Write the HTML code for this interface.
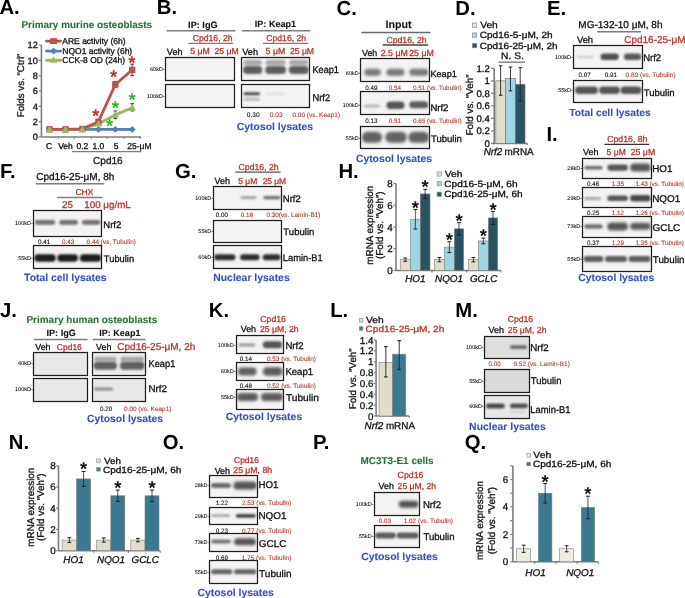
<!DOCTYPE html>
<html><head><meta charset="utf-8"><style>
html,body{margin:0;padding:0;background:#fff;width:685px;height:598px;overflow:hidden}
svg{display:block;will-change:transform;text-rendering:geometricPrecision;font-family:"Liberation Sans",sans-serif}
</style></head><body>
<svg width="685" height="598" viewBox="0 0 685 598">
<defs><filter id="b2" x="-30%" y="-80%" width="160%" height="260%"><feGaussianBlur stdDeviation="0.2"/></filter><filter id="b3" x="-30%" y="-80%" width="160%" height="260%"><feGaussianBlur stdDeviation="0.3"/></filter><filter id="b4" x="-30%" y="-80%" width="160%" height="260%"><feGaussianBlur stdDeviation="0.4"/></filter><filter id="b5" x="-30%" y="-80%" width="160%" height="260%"><feGaussianBlur stdDeviation="0.5"/></filter><filter id="b6" x="-30%" y="-80%" width="160%" height="260%"><feGaussianBlur stdDeviation="0.6"/></filter><filter id="b7" x="-30%" y="-80%" width="160%" height="260%"><feGaussianBlur stdDeviation="0.7"/></filter><filter id="b8" x="-30%" y="-80%" width="160%" height="260%"><feGaussianBlur stdDeviation="0.8"/></filter><filter id="b9" x="-30%" y="-80%" width="160%" height="260%"><feGaussianBlur stdDeviation="0.9"/></filter><filter id="b10" x="-30%" y="-80%" width="160%" height="260%"><feGaussianBlur stdDeviation="1.0"/></filter><filter id="b11" x="-30%" y="-80%" width="160%" height="260%"><feGaussianBlur stdDeviation="1.1"/></filter><filter id="b12" x="-30%" y="-80%" width="160%" height="260%"><feGaussianBlur stdDeviation="1.2"/></filter><filter id="b13" x="-30%" y="-80%" width="160%" height="260%"><feGaussianBlur stdDeviation="1.3"/></filter><filter id="b14" x="-30%" y="-80%" width="160%" height="260%"><feGaussianBlur stdDeviation="1.4"/></filter><filter id="b15" x="-30%" y="-80%" width="160%" height="260%"><feGaussianBlur stdDeviation="1.5"/></filter><filter id="b16" x="-30%" y="-80%" width="160%" height="260%"><feGaussianBlur stdDeviation="1.6"/></filter><filter id="b17" x="-30%" y="-80%" width="160%" height="260%"><feGaussianBlur stdDeviation="1.7"/></filter><filter id="b18" x="-30%" y="-80%" width="160%" height="260%"><feGaussianBlur stdDeviation="1.8"/></filter><filter id="b19" x="-30%" y="-80%" width="160%" height="260%"><feGaussianBlur stdDeviation="1.9"/></filter><filter id="b20" x="-30%" y="-80%" width="160%" height="260%"><feGaussianBlur stdDeviation="2.0"/></filter><filter id="b21" x="-30%" y="-80%" width="160%" height="260%"><feGaussianBlur stdDeviation="2.1"/></filter><filter id="b22" x="-30%" y="-80%" width="160%" height="260%"><feGaussianBlur stdDeviation="2.2"/></filter><filter id="b23" x="-30%" y="-80%" width="160%" height="260%"><feGaussianBlur stdDeviation="2.3"/></filter><filter id="b24" x="-30%" y="-80%" width="160%" height="260%"><feGaussianBlur stdDeviation="2.4"/></filter><filter id="b25" x="-30%" y="-80%" width="160%" height="260%"><feGaussianBlur stdDeviation="2.5"/></filter><filter id="b26" x="-30%" y="-80%" width="160%" height="260%"><feGaussianBlur stdDeviation="2.6"/></filter><filter id="b27" x="-30%" y="-80%" width="160%" height="260%"><feGaussianBlur stdDeviation="2.7"/></filter><filter id="b28" x="-30%" y="-80%" width="160%" height="260%"><feGaussianBlur stdDeviation="2.8"/></filter><filter id="b29" x="-30%" y="-80%" width="160%" height="260%"><feGaussianBlur stdDeviation="2.9"/></filter><filter id="b30" x="-30%" y="-80%" width="160%" height="260%"><feGaussianBlur stdDeviation="3.0"/></filter></defs>
<rect width="685" height="598" fill="#fff"/>
<text x="-0.61" y="14.41" font-size="20.3" font-weight="bold" fill="#000">A.</text>
<text x="21.45" y="28.08" font-size="9.94" fill="#2b7034" font-weight="bold" stroke="#2b7034" stroke-width="0.08">Primary murine osteoblasts</text>
<line x1="41.4" y1="45" x2="41.4" y2="137.0" stroke="#7d7d7d" stroke-width="1.6"/>
<line x1="41.4" y1="137.0" x2="141" y2="137.0" stroke="#7d7d7d" stroke-width="1.6"/>
<line x1="38.6" y1="45.0" x2="41.4" y2="45.0" stroke="#7d7d7d" stroke-width="1.2"/>
<text x="37.80" y="48.31" font-size="9.2" fill="#111" text-anchor="end" stroke="#111" stroke-width="0.3">12</text>
<line x1="38.6" y1="60.33333333333333" x2="41.4" y2="60.33333333333333" stroke="#7d7d7d" stroke-width="1.2"/>
<text x="37.80" y="63.65" font-size="9.2" fill="#111" text-anchor="end" stroke="#111" stroke-width="0.3">10</text>
<line x1="38.6" y1="75.66666666666666" x2="41.4" y2="75.66666666666666" stroke="#7d7d7d" stroke-width="1.2"/>
<text x="37.80" y="78.98" font-size="9.2" fill="#111" text-anchor="end" stroke="#111" stroke-width="0.3">8</text>
<line x1="38.6" y1="91.0" x2="41.4" y2="91.0" stroke="#7d7d7d" stroke-width="1.2"/>
<text x="37.80" y="94.31" font-size="9.2" fill="#111" text-anchor="end" stroke="#111" stroke-width="0.3">6</text>
<line x1="38.6" y1="106.33333333333333" x2="41.4" y2="106.33333333333333" stroke="#7d7d7d" stroke-width="1.2"/>
<text x="37.80" y="109.65" font-size="9.2" fill="#111" text-anchor="end" stroke="#111" stroke-width="0.3">4</text>
<line x1="38.6" y1="121.66666666666667" x2="41.4" y2="121.66666666666667" stroke="#7d7d7d" stroke-width="1.2"/>
<text x="37.80" y="124.98" font-size="9.2" fill="#111" text-anchor="end" stroke="#111" stroke-width="0.3">2</text>
<line x1="38.6" y1="137.0" x2="41.4" y2="137.0" stroke="#7d7d7d" stroke-width="1.2"/>
<text x="37.80" y="140.31" font-size="9.2" fill="#111" text-anchor="end" stroke="#111" stroke-width="0.3">0</text>
<line x1="58.3" y1="137.0" x2="58.3" y2="138.8" stroke="#7d7d7d" stroke-width="1.2"/>
<line x1="74.3" y1="137.0" x2="74.3" y2="138.8" stroke="#7d7d7d" stroke-width="1.2"/>
<line x1="91.2" y1="137.0" x2="91.2" y2="138.8" stroke="#7d7d7d" stroke-width="1.2"/>
<line x1="107.3" y1="137.0" x2="107.3" y2="138.8" stroke="#7d7d7d" stroke-width="1.2"/>
<line x1="124.1" y1="137.0" x2="124.1" y2="138.8" stroke="#7d7d7d" stroke-width="1.2"/>
<line x1="140.2" y1="137.0" x2="140.2" y2="138.8" stroke="#7d7d7d" stroke-width="1.2"/>
<text x="20.50" y="89.03" font-size="9.8" fill="#111" text-anchor="middle" transform="rotate(-90 20.50 85.50)" stroke="#111" stroke-width="0.3">Folds vs. “Ctrl”</text>
<line x1="115.3" y1="81.41666666666666" x2="115.3" y2="87.55" stroke="#333" stroke-width="0.9"/>
<line x1="113.5" y1="81.41666666666666" x2="117.1" y2="81.41666666666666" stroke="#333" stroke-width="1.0"/>
<line x1="113.5" y1="87.55" x2="117.1" y2="87.55" stroke="#333" stroke-width="1.0"/>
<line x1="132.2" y1="64.16666666666666" x2="132.2" y2="75.66666666666666" stroke="#333" stroke-width="0.9"/>
<line x1="130.39999999999998" y1="64.16666666666666" x2="134.0" y2="64.16666666666666" stroke="#333" stroke-width="1.0"/>
<line x1="130.39999999999998" y1="75.66666666666666" x2="134.0" y2="75.66666666666666" stroke="#333" stroke-width="1.0"/>
<line x1="115.3" y1="110.93333333333334" x2="115.3" y2="118.6" stroke="#333" stroke-width="0.9"/>
<line x1="113.5" y1="110.93333333333334" x2="117.1" y2="110.93333333333334" stroke="#333" stroke-width="1.0"/>
<line x1="113.5" y1="118.6" x2="117.1" y2="118.6" stroke="#333" stroke-width="1.0"/>
<line x1="132.2" y1="103.65" x2="132.2" y2="110.93333333333334" stroke="#333" stroke-width="0.9"/>
<line x1="130.39999999999998" y1="103.65" x2="134.0" y2="103.65" stroke="#333" stroke-width="1.0"/>
<line x1="130.39999999999998" y1="110.93333333333334" x2="134.0" y2="110.93333333333334" stroke="#333" stroke-width="1.0"/>
<polyline points="49.5,129.3 65.5,129.3 82.4,129.3 98.4,129.3 115.3,129.3 132.2,129.5" fill="none" stroke="#4f81bd" stroke-width="2.8" stroke-linejoin="round"/>
<polyline points="49.5,129.5 65.5,129.5 82.4,129.3 98.4,123.7 115.3,114.9 132.2,107.7" fill="none" stroke="#9bbb59" stroke-width="2.8" stroke-linejoin="round"/>
<polyline points="49.5,129.3 65.5,129.3 82.4,128.9 98.4,121.7 115.3,84.5 132.2,69.9" fill="none" stroke="#c0504d" stroke-width="2.8" stroke-linejoin="round"/>
<polygon points="49.5,125.93333333333334 52.9,129.33333333333334 49.5,132.73333333333335 46.1,129.33333333333334" fill="#4f81bd"/>
<polygon points="65.5,125.93333333333334 68.9,129.33333333333334 65.5,132.73333333333335 62.1,129.33333333333334" fill="#4f81bd"/>
<polygon points="82.4,125.93333333333334 85.80000000000001,129.33333333333334 82.4,132.73333333333335 79.0,129.33333333333334" fill="#4f81bd"/>
<polygon points="98.4,125.93333333333334 101.80000000000001,129.33333333333334 98.4,132.73333333333335 95.0,129.33333333333334" fill="#4f81bd"/>
<polygon points="115.3,125.93333333333334 118.7,129.33333333333334 115.3,132.73333333333335 111.89999999999999,129.33333333333334" fill="#4f81bd"/>
<polygon points="132.2,126.08666666666667 135.6,129.48666666666668 132.2,132.88666666666668 128.79999999999998,129.48666666666668" fill="#4f81bd"/>
<rect x="46.30" y="126.13" width="6.40" height="6.40" fill="#c0504d" />
<rect x="62.30" y="126.13" width="6.40" height="6.40" fill="#c0504d" />
<rect x="79.20" y="125.75" width="6.40" height="6.40" fill="#c0504d" />
<rect x="95.20" y="118.47" width="6.40" height="6.40" fill="#c0504d" />
<rect x="112.10" y="81.28" width="6.40" height="6.40" fill="#c0504d" />
<rect x="129.00" y="66.72" width="6.40" height="6.40" fill="#c0504d" />
<polygon points="49.5,125.68666666666668 53.3,132.2866666666667 45.7,132.2866666666667" fill="#9bbb59"/>
<polygon points="65.5,125.68666666666668 69.3,132.2866666666667 61.7,132.2866666666667" fill="#9bbb59"/>
<polygon points="82.4,125.53333333333335 86.2,132.13333333333335 78.60000000000001,132.13333333333335" fill="#9bbb59"/>
<polygon points="98.4,119.93666666666667 102.2,126.53666666666666 94.60000000000001,126.53666666666666" fill="#9bbb59"/>
<polygon points="115.3,111.12 119.1,117.72 111.5,117.72" fill="#9bbb59"/>
<polygon points="132.2,103.91333333333334 136.0,110.51333333333334 128.39999999999998,110.51333333333334" fill="#9bbb59"/>
<line x1="46.5" y1="41.1" x2="60.6" y2="41.1" stroke="#c0504d" stroke-width="2.9" stroke-linecap="round"/>
<rect x="50.00" y="38.20" width="7.00" height="5.80" fill="#c0504d" />
<text x="62.30" y="44.16" font-size="8.5" fill="#111" stroke="#111" stroke-width="0.3">ARE activity (6h)</text>
<line x1="46.5" y1="51.1" x2="60.6" y2="51.1" stroke="#4f81bd" stroke-width="2.9" stroke-linecap="round"/>
<polygon points="53.5,47.7 57,51.1 53.5,54.5 50,51.1" fill="#4f81bd"/>
<text x="62.30" y="54.16" font-size="8.5" fill="#111" stroke="#111" stroke-width="0.3">NQO1 activity (6h)</text>
<line x1="46.5" y1="60.2" x2="60.6" y2="60.2" stroke="#9bbb59" stroke-width="2.9" stroke-linecap="round"/>
<polygon points="53.5,56.400000000000006 57.5,62.800000000000004 49.5,62.800000000000004" fill="#9bbb59"/>
<text x="62.30" y="63.26" font-size="8.5" fill="#111" stroke="#111" stroke-width="0.3">CCK-8 OD (24h)</text>
<text x="95.70" y="122.44" font-size="18.5" font-weight="bold" fill="#c2302a" text-anchor="middle">*</text>
<text x="113.70" y="82.84" font-size="18.5" font-weight="bold" fill="#c2302a" text-anchor="middle">*</text>
<text x="131.80" y="68.64" font-size="18.5" font-weight="bold" fill="#c2302a" text-anchor="middle">*</text>
<text x="109.70" y="132.34" font-size="18.5" font-weight="bold" fill="#2fb02f" text-anchor="middle">*</text>
<text x="115.30" y="113.94" font-size="18.5" font-weight="bold" fill="#2fb02f" text-anchor="middle">*</text>
<text x="132.20" y="105.53" font-size="18.5" font-weight="bold" fill="#2fb02f" text-anchor="middle">*</text>
<text x="49.10" y="149.26" font-size="8.5" fill="#111" text-anchor="middle" stroke="#111" stroke-width="0.3">C</text>
<text x="65.50" y="149.26" font-size="8.5" fill="#111" text-anchor="middle" stroke="#111" stroke-width="0.3">Veh</text>
<text x="82.40" y="149.26" font-size="8.5" fill="#111" text-anchor="middle" stroke="#111" stroke-width="0.3">0.2</text>
<text x="98.40" y="149.26" font-size="8.5" fill="#111" text-anchor="middle" stroke="#111" stroke-width="0.3">1.0</text>
<text x="116.10" y="149.26" font-size="8.5" fill="#111" text-anchor="middle" stroke="#111" stroke-width="0.3">5</text>
<text x="127.30" y="149.26" font-size="8.5" fill="#111" stroke="#111" stroke-width="0.3">25-μM</text>
<line x1="72" y1="151.7" x2="141.5" y2="151.7" stroke="#7d7d7d" stroke-width="1.2"/>
<text x="93.05" y="163.53" font-size="10.07" fill="#111" stroke="#111" stroke-width="0.3">Cpd16</text>
<text x="156.78" y="14.41" font-size="20.3" font-weight="bold" fill="#000">B.</text>
<text x="188.11" y="27.50" font-size="9.16" fill="#111" font-weight="bold" stroke="#111" stroke-width="0.08">IP: IgG</text>
<line x1="166.6" y1="30.8" x2="235.4" y2="30.8" stroke="#7d7d7d" stroke-width="1.4"/>
<text x="254.82" y="27.46" font-size="9.06" fill="#111" font-weight="bold" stroke="#111" stroke-width="0.08">IP: Keap1</text>
<line x1="242" y1="30.8" x2="310.3" y2="30.8" stroke="#7d7d7d" stroke-width="1.4"/>
<text x="192.72" y="41.21" font-size="8.64" fill="#b5382e" stroke="#b5382e" stroke-width="0.3">Cpd16, 2h</text>
<line x1="188.4" y1="43.4" x2="233" y2="43.4" stroke="#7d7d7d" stroke-width="1.4"/>
<text x="266.32" y="41.20" font-size="8.62" fill="#b5382e" stroke="#b5382e" stroke-width="0.3">Cpd16, 2h</text>
<line x1="263" y1="43.4" x2="308.4" y2="43.4" stroke="#7d7d7d" stroke-width="1.4"/>
<text x="166.86" y="54.59" font-size="9.15" fill="#111" stroke="#111" stroke-width="0.3">Veh</text>
<text x="190.20" y="54.46" font-size="8.77" fill="#b5382e" stroke="#b5382e" stroke-width="0.3">5 μM</text>
<text x="214.52" y="54.41" font-size="8.65" fill="#b5382e" stroke="#b5382e" stroke-width="0.3">25 μM</text>
<text x="242.26" y="54.59" font-size="9.15" fill="#111" stroke="#111" stroke-width="0.3">Veh</text>
<text x="265.60" y="54.46" font-size="8.77" fill="#b5382e" stroke="#b5382e" stroke-width="0.3">5 μM</text>
<text x="289.92" y="54.41" font-size="8.65" fill="#b5382e" stroke="#b5382e" stroke-width="0.3">25 μM</text>
<rect x="165.50" y="57.50" width="69.00" height="23.00" fill="#f3f3f3" stroke="#1e1e1e" stroke-width="1.25" />
<rect x="165.50" y="84.50" width="69.00" height="23.00" fill="#f3f3f3" stroke="#1e1e1e" stroke-width="1.25" />
<rect x="241.50" y="57.50" width="68.00" height="23.00" fill="#f3f3f3" stroke="#1e1e1e" stroke-width="1.25" />
<rect x="241.50" y="84.50" width="68.00" height="23.00" fill="#f3f3f3" stroke="#1e1e1e" stroke-width="1.25" />
<rect x="243.50" y="59.80" width="18.30" height="6.00" rx="3.00" fill="#ababab" opacity="1.0" filter="url(#b12)"/>
<rect x="243.00" y="66.00" width="19.30" height="8.00" rx="4.00" fill="#5e5e5e" opacity="1.0" filter="url(#b12)"/>
<rect x="265.70" y="59.80" width="19.80" height="6.00" rx="3.00" fill="#ababab" opacity="1.0" filter="url(#b12)"/>
<rect x="265.20" y="66.00" width="20.80" height="8.00" rx="4.00" fill="#5e5e5e" opacity="1.0" filter="url(#b12)"/>
<rect x="289.30" y="59.80" width="19.10" height="6.00" rx="3.00" fill="#ababab" opacity="1.0" filter="url(#b12)"/>
<rect x="288.80" y="66.00" width="20.10" height="8.00" rx="4.00" fill="#5e5e5e" opacity="1.0" filter="url(#b12)"/>
<rect x="243.50" y="92.30" width="16.50" height="3.00" rx="1.50" fill="#484848" opacity="1.0" filter="url(#b8)"/>
<rect x="243.50" y="97.45" width="16.50" height="3.50" rx="1.75" fill="#bdbdbd" opacity="1.0" filter="url(#b10)"/>
<rect x="266.00" y="92.80" width="18.00" height="2.00" rx="1.00" fill="#dadada" opacity="1.0" filter="url(#b8)"/>
<text x="312.52" y="72.83" font-size="9.8" fill="#111" textLength="26.40" lengthAdjust="spacingAndGlyphs" stroke="#111" stroke-width="0.3">Keap1</text>
<text x="312.50" y="100.53" font-size="9.8" fill="#111" textLength="17.60" lengthAdjust="spacingAndGlyphs" stroke="#111" stroke-width="0.3">Nrf2</text>
<text x="164.70" y="70.98" font-size="5.5" fill="#000" text-anchor="end" stroke="#000" stroke-width="0.06">60kD-</text>
<text x="164.70" y="98.48" font-size="5.5" fill="#000" text-anchor="end" stroke="#000" stroke-width="0.06">100kD-</text>
<text x="253.20" y="117.38" font-size="6.6" fill="#111" text-anchor="middle" stroke="#111" stroke-width="0.1">0.30</text>
<text x="276.20" y="117.38" font-size="6.6" fill="#b5382e" text-anchor="middle" stroke="#b5382e" stroke-width="0.1">0.03</text>
<text x="292.39" y="117.34" font-size="6.5" fill="#b5382e" stroke="#b5382e" stroke-width="0.1">0.00 (vs. Keap1)</text>
<text x="236.83" y="129.54" font-size="10.39" fill="#3450bb" font-weight="bold" stroke="#3450bb" stroke-width="0.08">Cytosol lysates</text>
<text x="336.49" y="14.61" font-size="20.3" font-weight="bold" fill="#000">C.</text>
<text x="385.50" y="28.34" font-size="10.68" fill="#111" font-weight="bold" stroke="#111" stroke-width="0.08">Input</text>
<line x1="361.4" y1="32.5" x2="430.5" y2="32.5" stroke="#6a6a6a" stroke-width="1.4"/>
<text x="386.41" y="42.84" font-size="8.71" fill="#b5382e" stroke="#b5382e" stroke-width="0.3">Cpd16, 2h</text>
<line x1="382.7" y1="45" x2="428.2" y2="45" stroke="#444" stroke-width="1.3"/>
<text x="362.06" y="56.18" font-size="8.84" fill="#111" stroke="#111" stroke-width="0.3">Veh</text>
<text x="380.71" y="56.18" font-size="8.84" fill="#b5382e" stroke="#b5382e" stroke-width="0.3">2.5 μM</text>
<text x="409.21" y="56.17" font-size="8.8" fill="#b5382e" stroke="#b5382e" stroke-width="0.3">25 μM</text>
<rect x="360.50" y="58.50" width="69.00" height="23.00" fill="#f3f3f3" stroke="#1e1e1e" stroke-width="1.25" />
<rect x="364.30" y="68.80" width="16.50" height="7.00" rx="3.50" fill="#787878" opacity="1.0" filter="url(#b14)"/>
<rect x="386.50" y="68.80" width="18.00" height="7.00" rx="3.50" fill="#787878" opacity="1.0" filter="url(#b14)"/>
<rect x="409.30" y="68.80" width="18.90" height="7.00" rx="3.50" fill="#787878" opacity="1.0" filter="url(#b14)"/>
<text x="430.42" y="76.69" font-size="9.13" fill="#111" stroke="#111" stroke-width="0.3">Keap1</text>
<text x="360.50" y="74.98" font-size="5.5" fill="#000" text-anchor="end" stroke="#000" stroke-width="0.06">60kD-</text>
<text x="371.30" y="89.57" font-size="6.3" fill="#111" text-anchor="middle" stroke="#111" stroke-width="0.1">0.49</text>
<text x="395.00" y="89.57" font-size="6.3" fill="#b5382e" text-anchor="middle" stroke="#b5382e" stroke-width="0.1">0.54</text>
<text x="412.90" y="89.59" font-size="6.36" fill="#b5382e" stroke="#b5382e" stroke-width="0.1">0.51 (vs. Tubulin)</text>
<rect x="360.50" y="91.50" width="69.00" height="23.00" fill="#f3f3f3" stroke="#1e1e1e" stroke-width="1.25" />
<rect x="364.00" y="104.40" width="16.00" height="3.20" rx="1.60" fill="#b8b8b8" opacity="1.0" filter="url(#b10)"/>
<rect x="386.50" y="101.55" width="18.00" height="7.50" rx="3.75" fill="#555" opacity="1.0" filter="url(#b13)"/>
<rect x="409.30" y="101.20" width="18.90" height="7.00" rx="3.50" fill="#5e5e5e" opacity="1.0" filter="url(#b13)"/>
<text x="430.39" y="110.63" font-size="9.54" fill="#111" stroke="#111" stroke-width="0.3">Nrf2</text>
<text x="360.50" y="107.28" font-size="5.5" fill="#000" text-anchor="end" stroke="#000" stroke-width="0.06">100kD-</text>
<text x="371.30" y="122.77" font-size="6.3" fill="#111" text-anchor="middle" stroke="#111" stroke-width="0.1">0.13</text>
<text x="395.00" y="122.77" font-size="6.3" fill="#b5382e" text-anchor="middle" stroke="#b5382e" stroke-width="0.1">0.51</text>
<text x="412.90" y="122.79" font-size="6.36" fill="#b5382e" stroke="#b5382e" stroke-width="0.1">0.65 (vs. Tubulin)</text>
<rect x="360.50" y="126.50" width="69.00" height="22.00" fill="#f3f3f3" stroke="#1e1e1e" stroke-width="1.25" />
<rect x="361.80" y="131.80" width="20.30" height="11.00" rx="5.50" fill="#636363" opacity="1.0" filter="url(#b16)"/>
<rect x="385.20" y="131.80" width="21.60" height="11.00" rx="5.50" fill="#636363" opacity="1.0" filter="url(#b16)"/>
<rect x="408.30" y="131.80" width="20.90" height="11.00" rx="5.50" fill="#636363" opacity="1.0" filter="url(#b16)"/>
<text x="430.96" y="141.94" font-size="9.56" fill="#111" stroke="#111" stroke-width="0.3">Tubulin</text>
<text x="360.50" y="139.88" font-size="5.5" fill="#000" text-anchor="end" stroke="#000" stroke-width="0.06">55kD-</text>
<text x="394.00" y="161.94" font-size="10.4" fill="#3450bb" text-anchor="middle" font-weight="bold" stroke="#3450bb" stroke-width="0.08">Cytosol lysates</text>
<text x="455.28" y="14.71" font-size="20.3" font-weight="bold" fill="#000">D.</text>
<rect x="472.40" y="23.00" width="4.40" height="4.40" fill="#e2dccb" stroke="#8a8a8a" stroke-width="0.6" />
<text x="480.15" y="28.44" font-size="9.0" fill="#111" textLength="17.66" lengthAdjust="spacingAndGlyphs" stroke="#111" stroke-width="0.3">Veh</text>
<rect x="472.40" y="32.90" width="4.40" height="4.40" fill="#9fd4e2" stroke="#8a8a8a" stroke-width="0.6" />
<text x="479.75" y="38.34" font-size="9.0" fill="#111" textLength="72.86" lengthAdjust="spacingAndGlyphs" stroke="#111" stroke-width="0.3">Cpd16-5-μM, 2h</text>
<rect x="472.40" y="43.40" width="4.40" height="4.40" fill="#2b5462" stroke="#8a8a8a" stroke-width="0.6" />
<text x="479.75" y="48.84" font-size="9.0" fill="#111" textLength="77.92" lengthAdjust="spacingAndGlyphs" stroke="#111" stroke-width="0.3">Cpd16-25-μM, 2h</text>
<text x="501.13" y="59.28" font-size="9.4" fill="#111" textLength="22.77" lengthAdjust="spacingAndGlyphs" stroke="#111" stroke-width="0.3">N. S.</text>
<line x1="498.7" y1="62.2" x2="525" y2="62.2" stroke="#7d7d7d" stroke-width="1.4"/>
<line x1="494.2" y1="68.3" x2="494.2" y2="143.5" stroke="#7d7d7d" stroke-width="1.6"/>
<line x1="492.8" y1="143.5" x2="527.4" y2="143.5" stroke="#7d7d7d" stroke-width="1.6"/>
<line x1="527.4" y1="143.5" x2="527.4" y2="145.1" stroke="#7d7d7d" stroke-width="1.2"/>
<line x1="491" y1="68.3" x2="494.2" y2="68.3" stroke="#7d7d7d" stroke-width="1.2"/>
<text x="489.80" y="71.76" font-size="9.6" fill="#111" text-anchor="end" stroke="#111" stroke-width="0.3">1.2</text>
<line x1="491" y1="80.83333333333333" x2="494.2" y2="80.83333333333333" stroke="#7d7d7d" stroke-width="1.2"/>
<text x="489.80" y="84.29" font-size="9.6" fill="#111" text-anchor="end" stroke="#111" stroke-width="0.3">1</text>
<line x1="491" y1="93.36666666666666" x2="494.2" y2="93.36666666666666" stroke="#7d7d7d" stroke-width="1.2"/>
<text x="489.80" y="96.82" font-size="9.6" fill="#111" text-anchor="end" stroke="#111" stroke-width="0.3">0.8</text>
<line x1="491" y1="105.9" x2="494.2" y2="105.9" stroke="#7d7d7d" stroke-width="1.2"/>
<text x="489.80" y="109.36" font-size="9.6" fill="#111" text-anchor="end" stroke="#111" stroke-width="0.3">0.6</text>
<line x1="491" y1="118.43333333333334" x2="494.2" y2="118.43333333333334" stroke="#7d7d7d" stroke-width="1.2"/>
<text x="489.80" y="121.89" font-size="9.6" fill="#111" text-anchor="end" stroke="#111" stroke-width="0.3">0.4</text>
<line x1="491" y1="130.96666666666667" x2="494.2" y2="130.96666666666667" stroke="#7d7d7d" stroke-width="1.2"/>
<text x="489.80" y="134.42" font-size="9.6" fill="#111" text-anchor="end" stroke="#111" stroke-width="0.3">0.2</text>
<line x1="491" y1="143.5" x2="494.2" y2="143.5" stroke="#7d7d7d" stroke-width="1.2"/>
<text x="489.80" y="146.96" font-size="9.6" fill="#111" text-anchor="end" stroke="#111" stroke-width="0.3">0</text>
<text x="469.30" y="108.56" font-size="9.9" fill="#111" text-anchor="middle" transform="rotate(-90 469.30 105.00)" stroke="#111" stroke-width="0.3">Fold vs. “Veh”</text>
<rect x="495.80" y="80.83" width="9.70" height="62.67" fill="#e2dccb" stroke="#777" stroke-width="0.7" />
<line x1="500.65" y1="65.79333333333332" x2="500.65" y2="95.24666666666667" stroke="#222" stroke-width="0.9"/>
<line x1="498.84999999999997" y1="65.79333333333332" x2="502.45" y2="65.79333333333332" stroke="#222" stroke-width="1.1"/>
<line x1="498.84999999999997" y1="95.24666666666667" x2="502.45" y2="95.24666666666667" stroke="#222" stroke-width="1.1"/>
<rect x="505.50" y="78.64" width="9.90" height="64.86" fill="#9fd4e2" stroke="#777" stroke-width="0.7" />
<line x1="510.45" y1="67.04666666666667" x2="510.45" y2="90.86" stroke="#222" stroke-width="0.9"/>
<line x1="508.65" y1="67.04666666666667" x2="512.25" y2="67.04666666666667" stroke="#222" stroke-width="1.1"/>
<line x1="508.65" y1="90.86" x2="512.25" y2="90.86" stroke="#222" stroke-width="1.1"/>
<rect x="515.40" y="84.28" width="9.60" height="59.22" fill="#2b5462" stroke="#777" stroke-width="0.7" />
<line x1="520.2" y1="67.67333333333333" x2="520.2" y2="100.88666666666666" stroke="#1a2a30" stroke-width="0.9"/>
<line x1="518.4000000000001" y1="67.67333333333333" x2="522.0" y2="67.67333333333333" stroke="#1a2a30" stroke-width="1.1"/>
<line x1="518.4000000000001" y1="100.88666666666666" x2="522.0" y2="100.88666666666666" stroke="#1a2a30" stroke-width="1.1"/>
<text x="483.70" y="154.96" font-size="9.9" fill="#111" font-style="italic" stroke="#111" stroke-width="0.3">Nrf2</text>
<text x="504.60" y="154.96" font-size="9.9" fill="#111" stroke="#111" stroke-width="0.3">mRNA</text>
<text x="546.98" y="14.71" font-size="20.3" font-weight="bold" fill="#000">E.</text>
<text x="578.35" y="28.10" font-size="10.01" fill="#111" stroke="#111" stroke-width="0.3">MG-132-10 μM, 8h</text>
<line x1="597" y1="31.8" x2="640.8" y2="31.8" stroke="#7d7d7d" stroke-width="1.5"/>
<text x="585.00" y="42.98" font-size="9.4" fill="#111" text-anchor="middle" stroke="#111" stroke-width="0.3">Veh</text>
<text x="624.20" y="43.20" font-size="10.0" fill="#b5382e" stroke="#b5382e" stroke-width="0.3">Cpd16-25-μM</text>
<rect x="573.50" y="45.50" width="69.00" height="23.00" fill="#f3f3f3" stroke="#1e1e1e" stroke-width="1.25" />
<rect x="576.40" y="55.75" width="17.40" height="2.50" rx="1.25" fill="#cfcfcf" opacity="1.0" filter="url(#b10)"/>
<rect x="600.50" y="53.55" width="18.30" height="6.50" rx="3.25" fill="#505050" opacity="1.0" filter="url(#b13)"/>
<rect x="623.90" y="53.55" width="17.30" height="6.50" rx="3.25" fill="#585858" opacity="1.0" filter="url(#b13)"/>
<text x="643.19" y="60.76" font-size="9.6" fill="#111" textLength="17.92" lengthAdjust="spacingAndGlyphs" stroke="#111" stroke-width="0.3">Nrf2</text>
<text x="572.80" y="58.98" font-size="5.5" fill="#000" text-anchor="end" stroke="#000" stroke-width="0.06">100kD-</text>
<text x="584.70" y="76.57" font-size="6.3" fill="#111" text-anchor="middle" stroke="#111" stroke-width="0.1">0.07</text>
<text x="610.90" y="76.57" font-size="6.3" fill="#111" text-anchor="middle" stroke="#111" stroke-width="0.1">0.91</text>
<text x="625.59" y="76.65" font-size="6.52" fill="#b5382e" stroke="#b5382e" stroke-width="0.1">0.89 (vs. Tubulin)</text>
<rect x="573.50" y="80.50" width="69.00" height="22.00" fill="#f3f3f3" stroke="#1e1e1e" stroke-width="1.25" />
<rect x="575.00" y="86.45" width="23.00" height="7.50" rx="3.75" fill="#555" opacity="1.0" filter="url(#b13)"/>
<rect x="599.00" y="86.45" width="21.00" height="7.50" rx="3.75" fill="#555" opacity="1.0" filter="url(#b13)"/>
<rect x="620.50" y="86.45" width="21.00" height="7.50" rx="3.75" fill="#555" opacity="1.0" filter="url(#b13)"/>
<text x="643.76" y="96.06" font-size="9.6" fill="#111" textLength="30.78" lengthAdjust="spacingAndGlyphs" stroke="#111" stroke-width="0.3">Tubulin</text>
<text x="572.80" y="92.48" font-size="5.5" fill="#000" text-anchor="end" stroke="#000" stroke-width="0.06">55kD-</text>
<text x="569.35" y="116.30" font-size="10.28" fill="#3450bb" font-weight="bold" stroke="#3450bb" stroke-width="0.08">Total cell lysates</text>
<text x="-0.02" y="178.41" font-size="20.3" font-weight="bold" fill="#000">F.</text>
<text x="36.25" y="180.41" font-size="10.03" fill="#111" stroke="#111" stroke-width="0.3">Cpd16-25-μM, 8h</text>
<line x1="35.8" y1="183.7" x2="104.3" y2="183.7" stroke="#7d7d7d" stroke-width="1.5"/>
<text x="75.42" y="194.58" font-size="8.56" fill="#b5382e" stroke="#b5382e" stroke-width="0.3">CHX</text>
<line x1="56.9" y1="197.4" x2="102.3" y2="197.4" stroke="#7d7d7d" stroke-width="1.5"/>
<text x="67.40" y="207.73" font-size="9.8" fill="#b5382e" text-anchor="middle" stroke="#b5382e" stroke-width="0.3">25</text>
<text x="84.27" y="207.73" font-size="9.81" fill="#b5382e" stroke="#b5382e" stroke-width="0.3">100 μg/mL</text>
<rect x="33.50" y="210.50" width="68.00" height="26.00" fill="#f3f3f3" stroke="#1e1e1e" stroke-width="1.25" />
<rect x="34.80" y="220.00" width="20.50" height="4.80" rx="2.40" fill="#707070" opacity="1.0" filter="url(#b12)"/>
<rect x="59.30" y="220.00" width="18.60" height="4.80" rx="2.40" fill="#707070" opacity="1.0" filter="url(#b12)"/>
<rect x="81.80" y="220.00" width="18.60" height="4.80" rx="2.40" fill="#707070" opacity="1.0" filter="url(#b12)"/>
<text x="103.29" y="228.26" font-size="9.6" fill="#111" textLength="18.03" lengthAdjust="spacingAndGlyphs" stroke="#111" stroke-width="0.3">Nrf2</text>
<text x="32.80" y="224.98" font-size="5.5" fill="#000" text-anchor="end" stroke="#000" stroke-width="0.06">100kD-</text>
<text x="44.20" y="244.07" font-size="6.3" fill="#111" text-anchor="middle" stroke="#111" stroke-width="0.1">0.41</text>
<text x="68.20" y="244.07" font-size="6.3" fill="#b5382e" text-anchor="middle" stroke="#b5382e" stroke-width="0.1">0.43</text>
<text x="86.59" y="244.11" font-size="6.43" fill="#b5382e" stroke="#b5382e" stroke-width="0.1">0.44 (vs, Tubulin)</text>
<rect x="33.50" y="245.50" width="68.00" height="23.00" fill="#f3f3f3" stroke="#1e1e1e" stroke-width="1.25" />
<rect x="34.30" y="254.25" width="21.50" height="7.50" rx="3.75" fill="#1e1e1e" opacity="1.0" filter="url(#b12)"/>
<rect x="57.30" y="254.25" width="20.70" height="7.50" rx="3.75" fill="#1e1e1e" opacity="1.0" filter="url(#b12)"/>
<rect x="79.80" y="254.25" width="21.40" height="7.50" rx="3.75" fill="#1e1e1e" opacity="1.0" filter="url(#b12)"/>
<text x="103.86" y="261.86" font-size="9.6" fill="#111" textLength="30.26" lengthAdjust="spacingAndGlyphs" stroke="#111" stroke-width="0.3">Tubulin</text>
<text x="32.80" y="259.98" font-size="5.5" fill="#000" text-anchor="end" stroke="#000" stroke-width="0.06">55kD-</text>
<text x="24.05" y="281.35" font-size="10.41" fill="#3450bb" font-weight="bold" stroke="#3450bb" stroke-width="0.08">Total cell lysates</text>
<text x="174.99" y="178.41" font-size="20.3" font-weight="bold" fill="#000">G.</text>
<text x="238.62" y="170.43" font-size="8.69" fill="#b5382e" stroke="#b5382e" stroke-width="0.3">Cpd16, 2h</text>
<line x1="235.1" y1="172.1" x2="280.5" y2="172.1" stroke="#555" stroke-width="1.3"/>
<text x="222.20" y="184.14" font-size="9.0" fill="#111" text-anchor="middle" stroke="#111" stroke-width="0.3">Veh</text>
<text x="238.21" y="183.95" font-size="8.48" fill="#b5382e" stroke="#b5382e" stroke-width="0.3">5 μM</text>
<text x="262.63" y="183.92" font-size="8.38" fill="#b5382e" stroke="#b5382e" stroke-width="0.3">25 μM</text>
<rect x="213.50" y="186.50" width="68.00" height="23.00" fill="#f3f3f3" stroke="#1e1e1e" stroke-width="1.25" />
<rect x="240.30" y="196.20" width="16.10" height="2.80" rx="1.40" fill="#9a9a9a" opacity="1.0" filter="url(#b10)"/>
<rect x="263.30" y="195.90" width="17.20" height="3.40" rx="1.70" fill="#6e6e6e" opacity="1.0" filter="url(#b10)"/>
<text x="282.79" y="201.66" font-size="9.6" fill="#111" textLength="17.92" lengthAdjust="spacingAndGlyphs" stroke="#111" stroke-width="0.3">Nrf2</text>
<text x="213.00" y="199.58" font-size="5.5" fill="#000" text-anchor="end" stroke="#000" stroke-width="0.06">100kD-</text>
<text x="222.00" y="217.07" font-size="6.3" fill="#111" text-anchor="middle" stroke="#111" stroke-width="0.1">0.00</text>
<text x="247.00" y="217.07" font-size="6.3" fill="#b5382e" text-anchor="middle" stroke="#b5382e" stroke-width="0.1">0.18</text>
<text x="266.39" y="217.11" font-size="6.41" fill="#b5382e" stroke="#b5382e" stroke-width="0.1">0.30(vs. Lamin-B1)</text>
<rect x="213.50" y="220.50" width="68.00" height="22.00" fill="#f3f3f3" stroke="#1e1e1e" stroke-width="1.25" />
<text x="283.36" y="234.96" font-size="9.6" fill="#111" textLength="31.09" lengthAdjust="spacingAndGlyphs" stroke="#111" stroke-width="0.3">Tubulin</text>
<text x="213.00" y="233.28" font-size="5.5" fill="#000" text-anchor="end" stroke="#000" stroke-width="0.06">55kD-</text>
<rect x="213.50" y="245.50" width="68.00" height="23.00" fill="#f3f3f3" stroke="#1e1e1e" stroke-width="1.25" />
<rect x="214.20" y="254.20" width="21.30" height="6.00" rx="3.00" fill="#2e2e2e" opacity="1.0" filter="url(#b12)"/>
<rect x="240.10" y="254.20" width="19.50" height="6.00" rx="3.00" fill="#2e2e2e" opacity="1.0" filter="url(#b12)"/>
<rect x="262.70" y="254.20" width="17.80" height="6.00" rx="3.00" fill="#2e2e2e" opacity="1.0" filter="url(#b12)"/>
<text x="282.80" y="261.06" font-size="9.6" fill="#111" textLength="39.90" lengthAdjust="spacingAndGlyphs" stroke="#111" stroke-width="0.3">Lamin-B1</text>
<text x="213.00" y="259.18" font-size="5.5" fill="#000" text-anchor="end" stroke="#000" stroke-width="0.06">60kD-</text>
<text x="213.22" y="281.25" font-size="10.43" fill="#3450bb" font-weight="bold" stroke="#3450bb" stroke-width="0.08">Nuclear lysates</text>
<text x="338.48" y="178.21" font-size="20.3" font-weight="bold" fill="#000">H.</text>
<rect x="437.10" y="171.90" width="4.20" height="4.20" fill="#e2dccb" stroke="#8a8a8a" stroke-width="0.6" />
<text x="444.65" y="177.24" font-size="9.0" fill="#111" textLength="17.77" lengthAdjust="spacingAndGlyphs" stroke="#111" stroke-width="0.3">Veh</text>
<rect x="437.10" y="181.60" width="4.20" height="4.20" fill="#9fd4e2" stroke="#8a8a8a" stroke-width="0.6" />
<text x="444.24" y="186.94" font-size="9.0" fill="#111" textLength="73.27" lengthAdjust="spacingAndGlyphs" stroke="#111" stroke-width="0.3">Cpd16-5-μM, 6h</text>
<rect x="437.10" y="192.10" width="4.20" height="4.20" fill="#2b5462" stroke="#8a8a8a" stroke-width="0.6" />
<text x="444.25" y="197.44" font-size="9.0" fill="#111" textLength="78.32" lengthAdjust="spacingAndGlyphs" stroke="#111" stroke-width="0.3">Cpd16-25-μM, 6h</text>
<line x1="396" y1="183.6" x2="396" y2="270.5" stroke="#7d7d7d" stroke-width="1.6"/>
<line x1="396" y1="270.5" x2="501" y2="270.5" stroke="#7d7d7d" stroke-width="1.6"/>
<line x1="393.5" y1="183.6" x2="396" y2="183.6" stroke="#7d7d7d" stroke-width="1.2"/>
<text x="392.60" y="187.13" font-size="9.8" fill="#111" text-anchor="end" stroke="#111" stroke-width="0.3">8</text>
<line x1="393.5" y1="205.325" x2="396" y2="205.325" stroke="#7d7d7d" stroke-width="1.2"/>
<text x="392.60" y="208.85" font-size="9.8" fill="#111" text-anchor="end" stroke="#111" stroke-width="0.3">6</text>
<line x1="393.5" y1="227.05" x2="396" y2="227.05" stroke="#7d7d7d" stroke-width="1.2"/>
<text x="392.60" y="230.58" font-size="9.8" fill="#111" text-anchor="end" stroke="#111" stroke-width="0.3">4</text>
<line x1="393.5" y1="248.775" x2="396" y2="248.775" stroke="#7d7d7d" stroke-width="1.2"/>
<text x="392.60" y="252.30" font-size="9.8" fill="#111" text-anchor="end" stroke="#111" stroke-width="0.3">2</text>
<line x1="393.5" y1="270.5" x2="396" y2="270.5" stroke="#7d7d7d" stroke-width="1.2"/>
<text x="392.60" y="274.03" font-size="9.8" fill="#111" text-anchor="end" stroke="#111" stroke-width="0.3">0</text>
<line x1="432" y1="270.5" x2="432" y2="272.5" stroke="#7d7d7d" stroke-width="1.2"/>
<line x1="466.7" y1="270.5" x2="466.7" y2="272.5" stroke="#7d7d7d" stroke-width="1.2"/>
<line x1="501" y1="270.5" x2="501" y2="272.5" stroke="#7d7d7d" stroke-width="1.2"/>
<text x="369.90" y="228.76" font-size="9.9" fill="#111" text-anchor="middle" transform="rotate(-90 369.90 225.20)" stroke="#111" stroke-width="0.3">mRNA expression</text>
<text x="379.40" y="228.76" font-size="9.9" fill="#111" text-anchor="middle" transform="rotate(-90 379.40 225.20)" stroke="#111" stroke-width="0.3">(Fold vs. “Veh”)</text>
<rect x="400.20" y="259.64" width="10.20" height="10.86" fill="#e2dccb" stroke="#808080" stroke-width="0.6" />
<line x1="405.29999999999995" y1="258.008125" x2="405.29999999999995" y2="261.266875" stroke="#1a1a1a" stroke-width="0.75"/>
<line x1="403.4" y1="258.008125" x2="407.19999999999993" y2="258.008125" stroke="#1a1a1a" stroke-width="1.0"/>
<line x1="403.4" y1="261.266875" x2="407.19999999999993" y2="261.266875" stroke="#1a1a1a" stroke-width="1.0"/>
<rect x="410.40" y="219.23" width="9.90" height="51.27" fill="#9fd4e2" stroke="#808080" stroke-width="0.6" />
<line x1="415.35" y1="209.45274999999998" x2="415.35" y2="229.00525" stroke="#1a1a1a" stroke-width="0.75"/>
<line x1="413.45000000000005" y1="209.45274999999998" x2="417.25" y2="209.45274999999998" stroke="#1a1a1a" stroke-width="1.0"/>
<line x1="413.45000000000005" y1="229.00525" x2="417.25" y2="229.00525" stroke="#1a1a1a" stroke-width="1.0"/>
<text x="415.35" y="213.59" font-size="18.5" font-weight="bold" fill="#111" text-anchor="middle">*</text>
<rect x="420.30" y="193.92" width="9.70" height="76.58" fill="#2b5462" stroke="#808080" stroke-width="0.6" />
<line x1="425.15" y1="189.357125" x2="425.15" y2="198.481625" stroke="#1a1a1a" stroke-width="0.75"/>
<line x1="423.25" y1="189.357125" x2="427.04999999999995" y2="189.357125" stroke="#1a1a1a" stroke-width="1.0"/>
<line x1="423.25" y1="198.481625" x2="427.04999999999995" y2="198.481625" stroke="#1a1a1a" stroke-width="1.0"/>
<text x="425.15" y="193.49" font-size="18.5" font-weight="bold" fill="#111" text-anchor="middle">*</text>
<rect x="434.40" y="259.64" width="10.00" height="10.86" fill="#e2dccb" stroke="#808080" stroke-width="0.6" />
<line x1="439.4" y1="257.465" x2="439.4" y2="261.81" stroke="#1a1a1a" stroke-width="0.75"/>
<line x1="437.5" y1="257.465" x2="441.29999999999995" y2="257.465" stroke="#1a1a1a" stroke-width="1.0"/>
<line x1="437.5" y1="261.81" x2="441.29999999999995" y2="261.81" stroke="#1a1a1a" stroke-width="1.0"/>
<rect x="444.40" y="247.15" width="9.90" height="23.35" fill="#9fd4e2" stroke="#808080" stroke-width="0.6" />
<line x1="449.35" y1="241.714375" x2="449.35" y2="252.576875" stroke="#1a1a1a" stroke-width="0.75"/>
<line x1="447.45000000000005" y1="241.714375" x2="451.25" y2="241.714375" stroke="#1a1a1a" stroke-width="1.0"/>
<line x1="447.45000000000005" y1="252.576875" x2="451.25" y2="252.576875" stroke="#1a1a1a" stroke-width="1.0"/>
<text x="449.35" y="245.85" font-size="18.5" font-weight="bold" fill="#111" text-anchor="middle">*</text>
<rect x="454.30" y="228.79" width="9.40" height="41.71" fill="#2b5462" stroke="#808080" stroke-width="0.6" />
<line x1="459.0" y1="222.596375" x2="459.0" y2="234.979625" stroke="#1a1a1a" stroke-width="0.75"/>
<line x1="457.1" y1="222.596375" x2="460.9" y2="222.596375" stroke="#1a1a1a" stroke-width="1.0"/>
<line x1="457.1" y1="234.979625" x2="460.9" y2="234.979625" stroke="#1a1a1a" stroke-width="1.0"/>
<text x="459.00" y="226.73" font-size="18.5" font-weight="bold" fill="#111" text-anchor="middle">*</text>
<rect x="468.40" y="259.64" width="10.00" height="10.86" fill="#e2dccb" stroke="#808080" stroke-width="0.6" />
<line x1="473.4" y1="257.465" x2="473.4" y2="261.81" stroke="#1a1a1a" stroke-width="0.75"/>
<line x1="471.5" y1="257.465" x2="475.29999999999995" y2="257.465" stroke="#1a1a1a" stroke-width="1.0"/>
<line x1="471.5" y1="261.81" x2="475.29999999999995" y2="261.81" stroke="#1a1a1a" stroke-width="1.0"/>
<rect x="478.40" y="240.95" width="9.90" height="29.55" fill="#9fd4e2" stroke="#808080" stroke-width="0.6" />
<line x1="483.35" y1="238.12975" x2="483.35" y2="243.77825" stroke="#1a1a1a" stroke-width="0.75"/>
<line x1="481.45000000000005" y1="238.12975" x2="485.25" y2="238.12975" stroke="#1a1a1a" stroke-width="1.0"/>
<line x1="481.45000000000005" y1="243.77825" x2="485.25" y2="243.77825" stroke="#1a1a1a" stroke-width="1.0"/>
<text x="483.35" y="242.26" font-size="18.5" font-weight="bold" fill="#111" text-anchor="middle">*</text>
<rect x="488.30" y="217.93" width="9.40" height="52.57" fill="#2b5462" stroke="#808080" stroke-width="0.6" />
<line x1="493.0" y1="211.40800000000002" x2="493.0" y2="224.44299999999998" stroke="#1a1a1a" stroke-width="0.75"/>
<line x1="491.1" y1="211.40800000000002" x2="494.9" y2="211.40800000000002" stroke="#1a1a1a" stroke-width="1.0"/>
<line x1="491.1" y1="224.44299999999998" x2="494.9" y2="224.44299999999998" stroke="#1a1a1a" stroke-width="1.0"/>
<text x="493.00" y="215.54" font-size="18.5" font-weight="bold" fill="#111" text-anchor="middle">*</text>
<text x="415.30" y="282.26" font-size="9.9" fill="#111" text-anchor="middle" font-style="italic" stroke="#111" stroke-width="0.3">HO1</text>
<text x="449.00" y="282.26" font-size="9.9" fill="#111" text-anchor="middle" font-style="italic" stroke="#111" stroke-width="0.3">NQO1</text>
<text x="483.60" y="282.26" font-size="9.9" fill="#111" text-anchor="middle" font-style="italic" stroke="#111" stroke-width="0.3">GCLC</text>
<text x="546.48" y="140.91" font-size="20.3" font-weight="bold" fill="#000">I.</text>
<text x="607.21" y="141.84" font-size="8.73" fill="#b5382e" stroke="#b5382e" stroke-width="0.3">Cpd16, 8h</text>
<line x1="604.4" y1="144.3" x2="649.2" y2="144.3" stroke="#333" stroke-width="1.2"/>
<text x="590.70" y="155.40" font-size="8.9" fill="#111" text-anchor="middle" stroke="#111" stroke-width="0.3">Veh</text>
<text x="606.61" y="155.29" font-size="8.58" fill="#b5382e" stroke="#b5382e" stroke-width="0.3">5 μM</text>
<text x="630.71" y="155.35" font-size="8.76" fill="#b5382e" stroke="#b5382e" stroke-width="0.3">25 μM</text>
<rect x="582.50" y="158.50" width="69.00" height="20.00" fill="#f3f3f3" stroke="#1e1e1e" stroke-width="1.25" />
<rect x="584.30" y="166.00" width="18.40" height="3.60" rx="1.80" fill="#6a6a6a" opacity="1.0" filter="url(#b11)"/>
<rect x="607.30" y="164.50" width="20.60" height="6.20" rx="3.10" fill="#555" opacity="1.0" filter="url(#b13)"/>
<rect x="630.10" y="163.60" width="20.50" height="8.00" rx="4.00" fill="#555" opacity="1.0" filter="url(#b14)"/>
<text x="652.16" y="172.13" font-size="9.8" fill="#111" textLength="20.24" lengthAdjust="spacingAndGlyphs" stroke="#111" stroke-width="0.3">HO1</text>
<text x="582.00" y="169.78" font-size="5.5" fill="#000" text-anchor="end" stroke="#000" stroke-width="0.06">28kD-</text>
<text x="593.10" y="185.97" font-size="6.3" fill="#111" text-anchor="middle" stroke="#111" stroke-width="0.1">0.46</text>
<text x="617.80" y="185.97" font-size="6.3" fill="#b5382e" text-anchor="middle" stroke="#b5382e" stroke-width="0.1">1.35</text>
<text x="635.50" y="185.97" font-size="6.3" fill="#b5382e" stroke="#b5382e" stroke-width="0.1">1.43 (vs. Tubulin)</text>
<rect x="582.50" y="187.50" width="69.00" height="20.00" fill="#f3f3f3" stroke="#1e1e1e" stroke-width="1.25" />
<rect x="584.30" y="197.20" width="16.70" height="2.60" rx="1.30" fill="#9a9a9a" opacity="1.0" filter="url(#b10)"/>
<rect x="607.30" y="195.40" width="20.60" height="5.60" rx="2.80" fill="#555" opacity="1.0" filter="url(#b13)"/>
<rect x="630.10" y="194.90" width="20.50" height="6.60" rx="3.30" fill="#4a4a4a" opacity="1.0" filter="url(#b13)"/>
<text x="652.15" y="201.53" font-size="9.8" fill="#111" textLength="28.23" lengthAdjust="spacingAndGlyphs" stroke="#111" stroke-width="0.3">NQO1</text>
<text x="582.00" y="199.98" font-size="5.5" fill="#000" text-anchor="end" stroke="#000" stroke-width="0.06">29kD-</text>
<text x="593.10" y="215.37" font-size="6.3" fill="#111" text-anchor="middle" stroke="#111" stroke-width="0.1">0.25</text>
<text x="617.80" y="215.37" font-size="6.3" fill="#b5382e" text-anchor="middle" stroke="#b5382e" stroke-width="0.1">1.12</text>
<text x="635.50" y="215.37" font-size="6.3" fill="#b5382e" stroke="#b5382e" stroke-width="0.1">1.26 (vs. Tubulin)</text>
<rect x="582.50" y="216.50" width="69.00" height="21.00" fill="#f3f3f3" stroke="#1e1e1e" stroke-width="1.25" />
<rect x="584.30" y="224.25" width="18.40" height="4.50" rx="2.25" fill="#707070" opacity="1.0" filter="url(#b12)"/>
<rect x="607.30" y="222.50" width="20.60" height="8.00" rx="4.00" fill="#555" opacity="1.0" filter="url(#b14)"/>
<rect x="630.10" y="222.80" width="20.50" height="7.00" rx="3.50" fill="#5a5a5a" opacity="1.0" filter="url(#b14)"/>
<text x="652.45" y="231.23" font-size="9.8" fill="#111" textLength="27.89" lengthAdjust="spacingAndGlyphs" stroke="#111" stroke-width="0.3">GCLC</text>
<text x="582.00" y="228.48" font-size="5.5" fill="#000" text-anchor="end" stroke="#000" stroke-width="0.06">73kD-</text>
<text x="593.10" y="245.07" font-size="6.3" fill="#111" text-anchor="middle" stroke="#111" stroke-width="0.1">0.37</text>
<text x="617.80" y="245.07" font-size="6.3" fill="#b5382e" text-anchor="middle" stroke="#b5382e" stroke-width="0.1">1.29</text>
<text x="635.50" y="245.07" font-size="6.3" fill="#b5382e" stroke="#b5382e" stroke-width="0.1">1.35 (vs. Tubulin)</text>
<rect x="582.50" y="246.50" width="69.00" height="25.00" fill="#f3f3f3" stroke="#1e1e1e" stroke-width="1.25" />
<rect x="583.50" y="256.00" width="20.00" height="6.00" rx="3.00" fill="#5e5e5e" opacity="1.0" filter="url(#b13)"/>
<rect x="605.00" y="256.00" width="22.00" height="6.00" rx="3.00" fill="#5e5e5e" opacity="1.0" filter="url(#b13)"/>
<rect x="628.50" y="256.00" width="22.00" height="6.00" rx="3.00" fill="#5e5e5e" opacity="1.0" filter="url(#b13)"/>
<text x="652.80" y="262.53" font-size="9.8" fill="#111" stroke="#111" stroke-width="0.3">Tubulin</text>
<text x="582.00" y="260.98" font-size="5.5" fill="#000" text-anchor="end" stroke="#000" stroke-width="0.06">55kD-</text>
<text x="578.34" y="281.23" font-size="10.37" fill="#3450bb" font-weight="bold" stroke="#3450bb" stroke-width="0.08">Cytosol lysates</text>
<text x="-0.01" y="316.51" font-size="20.3" font-weight="bold" fill="#000">J.</text>
<text x="26.45" y="323.09" font-size="9.98" fill="#2b7034" font-weight="bold" stroke="#2b7034" stroke-width="0.08">Primary human osteoblasts</text>
<text x="46.41" y="336.00" font-size="9.16" fill="#111" font-weight="bold" stroke="#111" stroke-width="0.08">IP: IgG</text>
<line x1="33.9" y1="339.4" x2="87.6" y2="339.4" stroke="#7d7d7d" stroke-width="1.5"/>
<text x="99.32" y="335.95" font-size="9.03" fill="#111" font-weight="bold" stroke="#111" stroke-width="0.08">IP: Keap1</text>
<line x1="92.7" y1="339.4" x2="145.6" y2="339.4" stroke="#7d7d7d" stroke-width="1.5"/>
<text x="42.90" y="350.00" font-size="8.9" fill="#111" text-anchor="middle" stroke="#111" stroke-width="0.3">Veh</text>
<text x="56.83" y="349.86" font-size="8.49" fill="#b5382e" stroke="#b5382e" stroke-width="0.3">Cpd16</text>
<text x="103.70" y="350.00" font-size="8.9" fill="#111" text-anchor="middle" stroke="#111" stroke-width="0.3">Veh</text>
<text x="117.35" y="350.40" font-size="9.99" fill="#b5382e" stroke="#b5382e" stroke-width="0.3">Cpd16-25-μM, 2h</text>
<rect x="33.50" y="352.50" width="54.00" height="23.00" fill="#e9e9e9" stroke="#1e1e1e" stroke-width="1.25" />
<rect x="33.50" y="378.50" width="54.00" height="23.00" fill="#e8e8e8" stroke="#1e1e1e" stroke-width="1.25" />
<rect x="92.50" y="352.50" width="53.00" height="23.00" fill="#ececec" stroke="#1e1e1e" stroke-width="1.25" />
<rect x="92.50" y="378.50" width="53.00" height="23.00" fill="#e8e8e8" stroke="#1e1e1e" stroke-width="1.25" />
<rect x="94.00" y="356.80" width="22.50" height="5.00" rx="2.50" fill="#a8a8a8" opacity="1.0" filter="url(#b13)"/>
<rect x="93.50" y="361.80" width="23.50" height="8.00" rx="4.00" fill="#5e5e5e" opacity="1.0" filter="url(#b13)"/>
<rect x="120.50" y="356.80" width="23.60" height="5.00" rx="2.50" fill="#a8a8a8" opacity="1.0" filter="url(#b13)"/>
<rect x="120.00" y="361.80" width="24.60" height="8.00" rx="4.00" fill="#5e5e5e" opacity="1.0" filter="url(#b13)"/>
<rect x="94.00" y="387.40" width="19.10" height="3.00" rx="1.50" fill="#8a8a8a" opacity="1.0" filter="url(#b10)"/>
<text x="148.51" y="366.93" font-size="9.8" fill="#111" textLength="26.82" lengthAdjust="spacingAndGlyphs" stroke="#111" stroke-width="0.3">Keap1</text>
<text x="148.46" y="392.43" font-size="9.8" fill="#111" textLength="18.57" lengthAdjust="spacingAndGlyphs" stroke="#111" stroke-width="0.3">Nrf2</text>
<text x="32.80" y="364.58" font-size="5.5" fill="#000" text-anchor="end" stroke="#000" stroke-width="0.06">60kD-</text>
<text x="32.80" y="390.58" font-size="5.5" fill="#000" text-anchor="end" stroke="#000" stroke-width="0.06">100kD-</text>
<text x="106.10" y="411.17" font-size="6.3" fill="#111" text-anchor="middle" stroke="#111" stroke-width="0.1">0.20</text>
<text x="123.99" y="411.23" font-size="6.47" fill="#b5382e" stroke="#b5382e" stroke-width="0.1">0.00 (vs. Keap1)</text>
<text x="87.04" y="422.33" font-size="10.37" fill="#3450bb" font-weight="bold" stroke="#3450bb" stroke-width="0.08">Cytosol lysates</text>
<text x="208.78" y="316.81" font-size="20.3" font-weight="bold" fill="#000">K.</text>
<text x="260.32" y="321.93" font-size="8.7" fill="#b5382e" stroke="#b5382e" stroke-width="0.3">Cpd16</text>
<text x="248.40" y="332.30" font-size="8.9" fill="#111" text-anchor="middle" stroke="#111" stroke-width="0.3">Veh</text>
<text x="259.92" y="332.23" font-size="8.69" fill="#b5382e" stroke="#b5382e" stroke-width="0.3">25 μM, 2h</text>
<rect x="236.50" y="335.50" width="47.00" height="18.00" fill="#f3f3f3" stroke="#1e1e1e" stroke-width="1.25" />
<rect x="238.40" y="343.50" width="16.90" height="3.00" rx="1.50" fill="#9a9a9a" opacity="1.0" filter="url(#b10)"/>
<rect x="262.80" y="341.30" width="19.30" height="7.00" rx="3.50" fill="#555" opacity="1.0" filter="url(#b13)"/>
<text x="285.38" y="349.13" font-size="9.8" fill="#111" textLength="18.14" lengthAdjust="spacingAndGlyphs" stroke="#111" stroke-width="0.3">Nrf2</text>
<text x="235.60" y="346.78" font-size="5.5" fill="#000" text-anchor="end" stroke="#000" stroke-width="0.06">100kD-</text>
<text x="245.90" y="360.67" font-size="6.3" fill="#111" text-anchor="middle" stroke="#111" stroke-width="0.1">0.14</text>
<text x="266.99" y="360.70" font-size="6.4" fill="#b5382e" stroke="#b5382e" stroke-width="0.1">0.53 (vs. Tubulin)</text>
<rect x="236.50" y="362.50" width="47.00" height="18.00" fill="#f3f3f3" stroke="#1e1e1e" stroke-width="1.25" />
<rect x="238.00" y="367.50" width="18.60" height="8.00" rx="4.00" fill="#606060" opacity="1.0" filter="url(#b14)"/>
<rect x="262.80" y="367.25" width="19.70" height="8.50" rx="4.25" fill="#5a5a5a" opacity="1.0" filter="url(#b14)"/>
<text x="285.38" y="375.33" font-size="9.8" fill="#111" textLength="27.76" lengthAdjust="spacingAndGlyphs" stroke="#111" stroke-width="0.3">Keap1</text>
<text x="235.60" y="373.48" font-size="5.5" fill="#000" text-anchor="end" stroke="#000" stroke-width="0.06">60kD-</text>
<text x="245.90" y="388.17" font-size="6.3" fill="#111" text-anchor="middle" stroke="#111" stroke-width="0.1">0.48</text>
<text x="266.99" y="388.20" font-size="6.4" fill="#b5382e" stroke="#b5382e" stroke-width="0.1">0.52 (vs. Tubulin)</text>
<rect x="236.50" y="389.50" width="47.00" height="20.00" fill="#f3f3f3" stroke="#1e1e1e" stroke-width="1.25" />
<rect x="237.00" y="393.10" width="21.00" height="8.00" rx="4.00" fill="#5a5a5a" opacity="1.0" filter="url(#b14)"/>
<rect x="261.00" y="393.10" width="22.00" height="8.00" rx="4.00" fill="#5a5a5a" opacity="1.0" filter="url(#b14)"/>
<text x="285.95" y="401.23" font-size="9.8" fill="#111" textLength="33.04" lengthAdjust="spacingAndGlyphs" stroke="#111" stroke-width="0.3">Tubulin</text>
<text x="235.60" y="399.08" font-size="5.5" fill="#000" text-anchor="end" stroke="#000" stroke-width="0.06">55kD-</text>
<text x="225.63" y="420.16" font-size="10.44" fill="#3450bb" font-weight="bold" stroke="#3450bb" stroke-width="0.08">Cytosol lysates</text>
<text x="330.18" y="316.81" font-size="20.3" font-weight="bold" fill="#000">L.</text>
<rect x="359.40" y="318.60" width="3.50" height="3.50" fill="#e2dccb" stroke="#8a8a8a" stroke-width="0.6" />
<text x="365.95" y="323.24" font-size="9.0" fill="#111" textLength="17.66" lengthAdjust="spacingAndGlyphs" stroke="#111" stroke-width="0.3">Veh</text>
<rect x="359.40" y="326.70" width="3.50" height="3.50" fill="#3a7a90" stroke="#8a8a8a" stroke-width="0.6" />
<text x="365.54" y="331.74" font-size="9.0" fill="#b5382e" textLength="78.83" lengthAdjust="spacingAndGlyphs" stroke="#b5382e" stroke-width="0.3">Cpd16-25-μM, 2h</text>
<line x1="376.1" y1="340.1" x2="376.1" y2="416" stroke="#7d7d7d" stroke-width="1.6"/>
<line x1="376.1" y1="416" x2="409.2" y2="416" stroke="#7d7d7d" stroke-width="1.6"/>
<line x1="409.2" y1="416" x2="409.2" y2="417.8" stroke="#7d7d7d" stroke-width="1.2"/>
<line x1="373.8" y1="340.1" x2="376.1" y2="340.1" stroke="#7d7d7d" stroke-width="1.2"/>
<text x="373.40" y="343.63" font-size="9.8" fill="#111" text-anchor="end" stroke="#111" stroke-width="0.3">1.4</text>
<line x1="373.8" y1="350.9428571428572" x2="376.1" y2="350.9428571428572" stroke="#7d7d7d" stroke-width="1.2"/>
<text x="373.40" y="354.47" font-size="9.8" fill="#111" text-anchor="end" stroke="#111" stroke-width="0.3">1.2</text>
<line x1="373.8" y1="361.78571428571433" x2="376.1" y2="361.78571428571433" stroke="#7d7d7d" stroke-width="1.2"/>
<text x="373.40" y="365.31" font-size="9.8" fill="#111" text-anchor="end" stroke="#111" stroke-width="0.3">1</text>
<line x1="373.8" y1="372.62857142857143" x2="376.1" y2="372.62857142857143" stroke="#7d7d7d" stroke-width="1.2"/>
<text x="373.40" y="376.16" font-size="9.8" fill="#111" text-anchor="end" stroke="#111" stroke-width="0.3">0.8</text>
<line x1="373.8" y1="383.4714285714286" x2="376.1" y2="383.4714285714286" stroke="#7d7d7d" stroke-width="1.2"/>
<text x="373.40" y="387.00" font-size="9.8" fill="#111" text-anchor="end" stroke="#111" stroke-width="0.3">0.6</text>
<line x1="373.8" y1="394.31428571428575" x2="376.1" y2="394.31428571428575" stroke="#7d7d7d" stroke-width="1.2"/>
<text x="373.40" y="397.84" font-size="9.8" fill="#111" text-anchor="end" stroke="#111" stroke-width="0.3">0.4</text>
<line x1="373.8" y1="405.1571428571429" x2="376.1" y2="405.1571428571429" stroke="#7d7d7d" stroke-width="1.2"/>
<text x="373.40" y="408.69" font-size="9.8" fill="#111" text-anchor="end" stroke="#111" stroke-width="0.3">0.2</text>
<line x1="373.8" y1="416.0" x2="376.1" y2="416.0" stroke="#7d7d7d" stroke-width="1.2"/>
<text x="373.40" y="419.53" font-size="9.8" fill="#111" text-anchor="end" stroke="#111" stroke-width="0.3">0</text>
<text x="352.40" y="382.36" font-size="9.9" fill="#111" text-anchor="middle" transform="rotate(-90 352.40 378.80)" stroke="#111" stroke-width="0.3">Fold vs. “Veh”</text>
<rect x="379.10" y="362.33" width="13.50" height="53.67" fill="#e2dccb" stroke="#808080" stroke-width="0.6" />
<line x1="385.85" y1="346.60571428571427" x2="385.85" y2="376.9657142857143" stroke="#222" stroke-width="0.9"/>
<line x1="383.95000000000005" y1="346.60571428571427" x2="387.75" y2="346.60571428571427" stroke="#222" stroke-width="1.1"/>
<line x1="383.95000000000005" y1="376.9657142857143" x2="387.75" y2="376.9657142857143" stroke="#222" stroke-width="1.1"/>
<rect x="392.60" y="354.20" width="13.20" height="61.80" fill="#3a7a90" stroke="#808080" stroke-width="0.6" />
<line x1="399.20000000000005" y1="340.64214285714286" x2="399.20000000000005" y2="369.3757142857143" stroke="#222" stroke-width="0.9"/>
<line x1="397.30000000000007" y1="340.64214285714286" x2="401.1" y2="340.64214285714286" stroke="#222" stroke-width="1.1"/>
<line x1="397.30000000000007" y1="369.3757142857143" x2="401.1" y2="369.3757142857143" stroke="#222" stroke-width="1.1"/>
<text x="364.60" y="428.96" font-size="9.9" fill="#111" font-style="italic" stroke="#111" stroke-width="0.3">Nrf2</text>
<text x="385.90" y="428.96" font-size="9.9" fill="#111" stroke="#111" stroke-width="0.3">mRNA</text>
<text x="455.28" y="316.81" font-size="20.3" font-weight="bold" fill="#000">M.</text>
<text x="507.82" y="322.29" font-size="8.59" fill="#b5382e" stroke="#b5382e" stroke-width="0.3">Cpd16</text>
<text x="496.20" y="332.60" font-size="8.9" fill="#111" text-anchor="middle" stroke="#111" stroke-width="0.3">Veh</text>
<text x="507.82" y="332.52" font-size="8.66" fill="#b5382e" stroke="#b5382e" stroke-width="0.3">25 μM, 2h</text>
<rect x="484.50" y="336.50" width="45.00" height="22.00" fill="#dedede" stroke="#1e1e1e" stroke-width="1.25" />
<rect x="509.90" y="345.30" width="17.30" height="3.60" rx="1.80" fill="#686868" opacity="1.0" filter="url(#b10)"/>
<text x="530.27" y="351.33" font-size="9.8" fill="#111" textLength="18.46" lengthAdjust="spacingAndGlyphs" stroke="#111" stroke-width="0.3">Nrf2</text>
<text x="483.80" y="349.08" font-size="5.5" fill="#000" text-anchor="end" stroke="#000" stroke-width="0.06">100kD-</text>
<text x="494.60" y="366.37" font-size="6.3" fill="#b5382e" text-anchor="middle" stroke="#b5382e" stroke-width="0.1">0.00</text>
<text x="513.49" y="366.43" font-size="6.46" fill="#b5382e" stroke="#b5382e" stroke-width="0.1">0.52 (vs. Lamin-B1)</text>
<rect x="484.50" y="369.50" width="45.00" height="23.00" fill="#dadada" stroke="#1e1e1e" stroke-width="1.25" />
<text x="530.86" y="384.33" font-size="9.8" fill="#111" textLength="30.57" lengthAdjust="spacingAndGlyphs" stroke="#111" stroke-width="0.3">Tubulin</text>
<text x="483.80" y="382.78" font-size="5.5" fill="#000" text-anchor="end" stroke="#000" stroke-width="0.06">55kD-</text>
<rect x="484.50" y="395.50" width="45.00" height="23.00" fill="#e8e8e8" stroke="#1e1e1e" stroke-width="1.25" />
<rect x="486.00" y="403.40" width="18.80" height="5.00" rx="2.50" fill="#4a4a4a" opacity="1.0" filter="url(#b12)"/>
<rect x="509.90" y="403.60" width="18.00" height="4.60" rx="2.30" fill="#505050" opacity="1.0" filter="url(#b12)"/>
<rect x="510.00" y="411.00" width="16.00" height="2.00" rx="1.00" fill="#cfcfcf" opacity="1.0" filter="url(#b10)"/>
<text x="530.30" y="412.53" font-size="9.8" fill="#111" textLength="40.21" lengthAdjust="spacingAndGlyphs" stroke="#111" stroke-width="0.3">Lamin-B1</text>
<text x="483.80" y="407.88" font-size="5.5" fill="#000" text-anchor="end" stroke="#000" stroke-width="0.06">60kD-</text>
<text x="469.12" y="430.46" font-size="10.44" fill="#3450bb" font-weight="bold" stroke="#3450bb" stroke-width="0.08">Nuclear lysates</text>
<text x="8.78" y="449.21" font-size="20.3" font-weight="bold" fill="#000">N.</text>
<rect x="96.70" y="458.90" width="3.60" height="3.60" fill="#e2dccb" stroke="#8a8a8a" stroke-width="0.6" />
<text x="103.95" y="464.24" font-size="9.0" fill="#111" textLength="17.03" lengthAdjust="spacingAndGlyphs" stroke="#111" stroke-width="0.3">Veh</text>
<rect x="96.70" y="467.50" width="3.60" height="3.60" fill="#3a7a90" stroke="#8a8a8a" stroke-width="0.6" />
<text x="102.95" y="472.54" font-size="9.0" fill="#111" textLength="78.42" lengthAdjust="spacingAndGlyphs" stroke="#111" stroke-width="0.3">Cpd16-25-μM, 6h</text>
<line x1="58.5" y1="465.7" x2="58.5" y2="550.7" stroke="#7d7d7d" stroke-width="1.6"/>
<line x1="58.5" y1="550.7" x2="160.2" y2="550.7" stroke="#7d7d7d" stroke-width="1.6"/>
<line x1="56.2" y1="465.7" x2="58.5" y2="465.7" stroke="#7d7d7d" stroke-width="1.2"/>
<text x="55.60" y="469.23" font-size="9.8" fill="#111" text-anchor="end" stroke="#111" stroke-width="0.3">8</text>
<line x1="56.2" y1="486.95" x2="58.5" y2="486.95" stroke="#7d7d7d" stroke-width="1.2"/>
<text x="55.60" y="490.48" font-size="9.8" fill="#111" text-anchor="end" stroke="#111" stroke-width="0.3">6</text>
<line x1="56.2" y1="508.20000000000005" x2="58.5" y2="508.20000000000005" stroke="#7d7d7d" stroke-width="1.2"/>
<text x="55.60" y="511.73" font-size="9.8" fill="#111" text-anchor="end" stroke="#111" stroke-width="0.3">4</text>
<line x1="56.2" y1="529.45" x2="58.5" y2="529.45" stroke="#7d7d7d" stroke-width="1.2"/>
<text x="55.60" y="532.98" font-size="9.8" fill="#111" text-anchor="end" stroke="#111" stroke-width="0.3">2</text>
<line x1="56.2" y1="550.7" x2="58.5" y2="550.7" stroke="#7d7d7d" stroke-width="1.2"/>
<text x="55.60" y="554.23" font-size="9.8" fill="#111" text-anchor="end" stroke="#111" stroke-width="0.3">0</text>
<line x1="93.9" y1="550.7" x2="93.9" y2="552.7" stroke="#7d7d7d" stroke-width="1.2"/>
<line x1="128.4" y1="550.7" x2="128.4" y2="552.7" stroke="#7d7d7d" stroke-width="1.2"/>
<line x1="160.2" y1="550.7" x2="160.2" y2="552.7" stroke="#7d7d7d" stroke-width="1.2"/>
<text x="30.00" y="510.76" font-size="9.9" fill="#111" text-anchor="middle" transform="rotate(-90 30.00 507.20)" stroke="#111" stroke-width="0.3">mRNA expression</text>
<text x="40.30" y="510.76" font-size="9.9" fill="#111" text-anchor="middle" transform="rotate(-90 40.30 507.20)" stroke="#111" stroke-width="0.3">(Fold vs. “Veh”)</text>
<rect x="62.10" y="540.08" width="14.50" height="10.62" fill="#e2dccb" stroke="#808080" stroke-width="0.6" />
<line x1="69.35" y1="537.7375000000001" x2="69.35" y2="542.4125" stroke="#1a1a1a" stroke-width="0.75"/>
<line x1="67.44999999999999" y1="537.7375000000001" x2="71.25" y2="537.7375000000001" stroke="#1a1a1a" stroke-width="1.0"/>
<line x1="67.44999999999999" y1="542.4125" x2="71.25" y2="542.4125" stroke="#1a1a1a" stroke-width="1.0"/>
<rect x="76.60" y="478.88" width="14.00" height="71.83" fill="#3a7a90" stroke="#808080" stroke-width="0.6" />
<line x1="83.6" y1="471.4375" x2="83.6" y2="486.3125" stroke="#1a1a1a" stroke-width="0.75"/>
<line x1="81.69999999999999" y1="471.4375" x2="85.5" y2="471.4375" stroke="#1a1a1a" stroke-width="1.0"/>
<line x1="81.69999999999999" y1="486.3125" x2="85.5" y2="486.3125" stroke="#1a1a1a" stroke-width="1.0"/>
<text x="83.60" y="474.87" font-size="18.5" font-weight="bold" fill="#111" text-anchor="middle">*</text>
<rect x="96.60" y="540.08" width="14.20" height="10.62" fill="#e2dccb" stroke="#808080" stroke-width="0.6" />
<line x1="103.69999999999999" y1="537.95" x2="103.69999999999999" y2="542.2" stroke="#1a1a1a" stroke-width="0.75"/>
<line x1="101.79999999999998" y1="537.95" x2="105.6" y2="537.95" stroke="#1a1a1a" stroke-width="1.0"/>
<line x1="101.79999999999998" y1="542.2" x2="105.6" y2="542.2" stroke="#1a1a1a" stroke-width="1.0"/>
<rect x="110.80" y="495.77" width="14.00" height="54.93" fill="#3a7a90" stroke="#808080" stroke-width="0.6" />
<line x1="117.8" y1="490.1375" x2="117.8" y2="501.40000000000003" stroke="#1a1a1a" stroke-width="0.75"/>
<line x1="115.89999999999999" y1="490.1375" x2="119.7" y2="490.1375" stroke="#1a1a1a" stroke-width="1.0"/>
<line x1="115.89999999999999" y1="501.40000000000003" x2="119.7" y2="501.40000000000003" stroke="#1a1a1a" stroke-width="1.0"/>
<text x="117.80" y="493.57" font-size="18.5" font-weight="bold" fill="#111" text-anchor="middle">*</text>
<rect x="130.80" y="540.08" width="14.20" height="10.62" fill="#e2dccb" stroke="#808080" stroke-width="0.6" />
<line x1="137.9" y1="538.375" x2="137.9" y2="541.7750000000001" stroke="#1a1a1a" stroke-width="0.75"/>
<line x1="136.0" y1="538.375" x2="139.8" y2="538.375" stroke="#1a1a1a" stroke-width="1.0"/>
<line x1="136.0" y1="541.7750000000001" x2="139.8" y2="541.7750000000001" stroke="#1a1a1a" stroke-width="1.0"/>
<rect x="145.00" y="495.77" width="14.00" height="54.93" fill="#3a7a90" stroke="#808080" stroke-width="0.6" />
<line x1="152.0" y1="490.1375" x2="152.0" y2="501.40000000000003" stroke="#1a1a1a" stroke-width="0.75"/>
<line x1="150.1" y1="490.1375" x2="153.9" y2="490.1375" stroke="#1a1a1a" stroke-width="1.0"/>
<line x1="150.1" y1="501.40000000000003" x2="153.9" y2="501.40000000000003" stroke="#1a1a1a" stroke-width="1.0"/>
<text x="152.00" y="493.57" font-size="18.5" font-weight="bold" fill="#111" text-anchor="middle">*</text>
<text x="73.50" y="563.16" font-size="9.9" fill="#111" text-anchor="middle" font-style="italic" stroke="#111" stroke-width="0.3">HO1</text>
<text x="111.00" y="563.16" font-size="9.9" fill="#111" text-anchor="middle" font-style="italic" stroke="#111" stroke-width="0.3">NQO1</text>
<text x="145.20" y="563.16" font-size="9.9" fill="#111" text-anchor="middle" font-style="italic" stroke="#111" stroke-width="0.3">GCLC</text>
<text x="162.69" y="449.41" font-size="20.3" font-weight="bold" fill="#000">O.</text>
<text x="234.03" y="462.96" font-size="8.49" fill="#b5382e" stroke="#b5382e" stroke-width="0.3">Cpd16</text>
<text x="222.30" y="473.50" font-size="8.9" fill="#111" text-anchor="middle" stroke="#111" stroke-width="0.3">Veh</text>
<text x="233.32" y="473.43" font-size="8.69" fill="#b5382e" stroke="#b5382e" stroke-width="0.3">25 μM, 8h</text>
<rect x="209.50" y="475.50" width="48.00" height="22.00" fill="#f3f3f3" stroke="#1e1e1e" stroke-width="1.25" />
<rect x="211.10" y="482.90" width="19.80" height="5.00" rx="2.50" fill="#6a6a6a" opacity="1.0" filter="url(#b13)"/>
<rect x="233.40" y="481.40" width="23.50" height="8.00" rx="4.00" fill="#555" opacity="1.0" filter="url(#b14)"/>
<text x="258.48" y="488.23" font-size="9.8" fill="#111" textLength="19.92" lengthAdjust="spacingAndGlyphs" stroke="#111" stroke-width="0.3">HO1</text>
<text x="209.30" y="487.38" font-size="5.5" fill="#000" text-anchor="end" stroke="#000" stroke-width="0.06">28kD-</text>
<text x="221.90" y="504.77" font-size="6.3" fill="#111" text-anchor="middle" stroke="#111" stroke-width="0.1">1.22</text>
<text x="241.93" y="504.82" font-size="6.45" fill="#b5382e" stroke="#b5382e" stroke-width="0.1">2.53 (vs. Tubulin)</text>
<rect x="209.50" y="507.50" width="48.00" height="17.00" fill="#f3f3f3" stroke="#1e1e1e" stroke-width="1.25" />
<rect x="211.50" y="514.40" width="18.50" height="2.40" rx="1.20" fill="#9a9a9a" opacity="1.0" filter="url(#b10)"/>
<rect x="235.90" y="514.20" width="19.80" height="3.40" rx="1.70" fill="#2e2e2e" opacity="1.0" filter="url(#b10)"/>
<text x="258.46" y="519.13" font-size="9.8" fill="#111" textLength="28.02" lengthAdjust="spacingAndGlyphs" stroke="#111" stroke-width="0.3">NQO1</text>
<text x="209.30" y="517.88" font-size="5.5" fill="#000" text-anchor="end" stroke="#000" stroke-width="0.06">29kD-</text>
<text x="221.90" y="532.77" font-size="6.3" fill="#111" text-anchor="middle" stroke="#111" stroke-width="0.1">0.23</text>
<text x="241.99" y="532.82" font-size="6.44" fill="#b5382e" stroke="#b5382e" stroke-width="0.1">0.77 (vs. Tubulin)</text>
<rect x="209.50" y="533.50" width="48.00" height="18.00" fill="#f3f3f3" stroke="#1e1e1e" stroke-width="1.25" />
<rect x="211.10" y="539.60" width="19.90" height="4.00" rx="2.00" fill="#777" opacity="1.0" filter="url(#b12)"/>
<rect x="234.00" y="538.30" width="22.00" height="7.00" rx="3.50" fill="#555" opacity="1.0" filter="url(#b14)"/>
<text x="258.75" y="547.13" font-size="9.8" fill="#111" textLength="27.68" lengthAdjust="spacingAndGlyphs" stroke="#111" stroke-width="0.3">GCLC</text>
<text x="209.30" y="543.78" font-size="5.5" fill="#000" text-anchor="end" stroke="#000" stroke-width="0.06">73kD-</text>
<text x="221.90" y="559.97" font-size="6.3" fill="#111" text-anchor="middle" stroke="#111" stroke-width="0.1">0.69</text>
<text x="241.73" y="560.03" font-size="6.48" fill="#b5382e" stroke="#b5382e" stroke-width="0.1">1.75 (vs. Tubulin)</text>
<rect x="209.50" y="560.50" width="48.00" height="23.00" fill="#f3f3f3" stroke="#1e1e1e" stroke-width="1.25" />
<rect x="211.00" y="569.30" width="21.50" height="5.00" rx="2.50" fill="#656565" opacity="1.0" filter="url(#b13)"/>
<rect x="234.00" y="569.30" width="22.50" height="5.00" rx="2.50" fill="#656565" opacity="1.0" filter="url(#b13)"/>
<text x="259.05" y="576.63" font-size="9.8" fill="#111" textLength="32.63" lengthAdjust="spacingAndGlyphs" stroke="#111" stroke-width="0.3">Tubulin</text>
<text x="209.30" y="573.78" font-size="5.5" fill="#000" text-anchor="end" stroke="#000" stroke-width="0.06">55kD-</text>
<text x="197.43" y="596.15" font-size="10.43" fill="#3450bb" font-weight="bold" stroke="#3450bb" stroke-width="0.08">Cytosol lysates</text>
<text x="312.88" y="449.11" font-size="20.3" font-weight="bold" fill="#000">P.</text>
<text x="360.45" y="464.19" font-size="9.97" fill="#2b7034" font-weight="bold" stroke="#2b7034" stroke-width="0.08">MC3T3-E1 cells</text>
<text x="397.61" y="478.16" font-size="8.77" fill="#b5382e" stroke="#b5382e" stroke-width="0.3">Cpd16</text>
<text x="386.20" y="488.80" font-size="8.9" fill="#111" text-anchor="middle" stroke="#111" stroke-width="0.3">Veh</text>
<text x="397.62" y="488.70" font-size="8.62" fill="#b5382e" stroke="#b5382e" stroke-width="0.3">25 μM, 2h</text>
<rect x="374.50" y="492.50" width="45.00" height="23.00" fill="#f3f3f3" stroke="#1e1e1e" stroke-width="1.25" />
<rect x="398.80" y="500.70" width="19.70" height="7.00" rx="3.50" fill="#525252" opacity="1.0" filter="url(#b14)"/>
<text x="422.88" y="507.73" font-size="9.8" fill="#111" textLength="18.14" lengthAdjust="spacingAndGlyphs" stroke="#111" stroke-width="0.3">Nrf2</text>
<text x="373.60" y="506.18" font-size="5.5" fill="#000" text-anchor="end" stroke="#000" stroke-width="0.06">100kD-</text>
<text x="384.90" y="523.07" font-size="6.3" fill="#b5382e" text-anchor="middle" stroke="#b5382e" stroke-width="0.1">0.03</text>
<text x="403.64" y="523.12" font-size="6.44" fill="#b5382e" stroke="#b5382e" stroke-width="0.1">1.02 (vs. Tubulin)</text>
<rect x="374.50" y="525.50" width="45.00" height="22.00" fill="#f3f3f3" stroke="#1e1e1e" stroke-width="1.25" />
<rect x="375.20" y="532.60" width="20.60" height="6.00" rx="3.00" fill="#5a5a5a" opacity="1.0" filter="url(#b13)"/>
<rect x="396.60" y="532.60" width="21.90" height="6.00" rx="3.00" fill="#5a5a5a" opacity="1.0" filter="url(#b13)"/>
<text x="423.46" y="540.43" font-size="9.8" fill="#111" textLength="31.09" lengthAdjust="spacingAndGlyphs" stroke="#111" stroke-width="0.3">Tubulin</text>
<text x="373.60" y="537.58" font-size="5.5" fill="#000" text-anchor="end" stroke="#000" stroke-width="0.06">55kD-</text>
<text x="361.13" y="559.57" font-size="10.46" fill="#3450bb" font-weight="bold" stroke="#3450bb" stroke-width="0.08">Cytosol lysates</text>
<text x="464.79" y="449.31" font-size="20.3" font-weight="bold" fill="#000">Q.</text>
<rect x="526.80" y="453.60" width="3.60" height="3.60" fill="#efece2" stroke="#8a8a8a" stroke-width="0.6" />
<text x="533.35" y="457.84" font-size="9.0" fill="#111" textLength="17.87" lengthAdjust="spacingAndGlyphs" stroke="#111" stroke-width="0.3">Veh</text>
<rect x="526.80" y="462.20" width="3.60" height="3.60" fill="#3a7a90" stroke="#8a8a8a" stroke-width="0.6" />
<text x="532.95" y="466.74" font-size="9.0" fill="#111" textLength="78.42" lengthAdjust="spacingAndGlyphs" stroke="#111" stroke-width="0.3">Cpd16-25-μM, 6h</text>
<line x1="512.9" y1="465.9" x2="512.9" y2="561.8" stroke="#7d7d7d" stroke-width="1.6"/>
<line x1="512.9" y1="561.8" x2="598.5" y2="561.8" stroke="#7d7d7d" stroke-width="1.6"/>
<line x1="510.29999999999995" y1="465.75999999999993" x2="512.9" y2="465.75999999999993" stroke="#7d7d7d" stroke-width="1.2"/>
<line x1="510.29999999999995" y1="479.47999999999996" x2="512.9" y2="479.47999999999996" stroke="#7d7d7d" stroke-width="1.2"/>
<line x1="510.29999999999995" y1="493.19999999999993" x2="512.9" y2="493.19999999999993" stroke="#7d7d7d" stroke-width="1.2"/>
<line x1="510.29999999999995" y1="506.91999999999996" x2="512.9" y2="506.91999999999996" stroke="#7d7d7d" stroke-width="1.2"/>
<line x1="510.29999999999995" y1="520.64" x2="512.9" y2="520.64" stroke="#7d7d7d" stroke-width="1.2"/>
<line x1="510.29999999999995" y1="534.3599999999999" x2="512.9" y2="534.3599999999999" stroke="#7d7d7d" stroke-width="1.2"/>
<line x1="510.29999999999995" y1="548.0799999999999" x2="512.9" y2="548.0799999999999" stroke="#7d7d7d" stroke-width="1.2"/>
<line x1="510.29999999999995" y1="561.8" x2="512.9" y2="561.8" stroke="#7d7d7d" stroke-width="1.2"/>
<text x="508.20" y="483.01" font-size="9.8" fill="#111" text-anchor="end" stroke="#111" stroke-width="0.3">6</text>
<text x="508.20" y="510.45" font-size="9.8" fill="#111" text-anchor="end" stroke="#111" stroke-width="0.3">4</text>
<text x="508.20" y="537.89" font-size="9.8" fill="#111" text-anchor="end" stroke="#111" stroke-width="0.3">2</text>
<text x="508.20" y="565.33" font-size="9.8" fill="#111" text-anchor="end" stroke="#111" stroke-width="0.3">0</text>
<line x1="534.7" y1="561.8" x2="534.7" y2="563.8" stroke="#7d7d7d" stroke-width="1.2"/>
<line x1="556.1" y1="561.8" x2="556.1" y2="563.8" stroke="#7d7d7d" stroke-width="1.2"/>
<line x1="577.3" y1="561.8" x2="577.3" y2="563.8" stroke="#7d7d7d" stroke-width="1.2"/>
<line x1="598.5" y1="561.8" x2="598.5" y2="563.8" stroke="#7d7d7d" stroke-width="1.2"/>
<text x="479.50" y="524.16" font-size="9.9" fill="#111" text-anchor="middle" transform="rotate(-90 479.50 520.60)" stroke="#111" stroke-width="0.3">mRNA expression</text>
<text x="491.90" y="524.16" font-size="9.9" fill="#111" text-anchor="middle" transform="rotate(-90 491.90 520.60)" stroke="#111" stroke-width="0.3">(Fold vs. “Veh”)</text>
<rect x="516.60" y="548.77" width="14.10" height="13.03" fill="#efece2" stroke="#808080" stroke-width="0.6" />
<line x1="523.6500000000001" y1="545.1988" x2="523.6500000000001" y2="552.3331999999999" stroke="#1a1a1a" stroke-width="0.75"/>
<line x1="521.7500000000001" y1="545.1988" x2="525.5500000000001" y2="545.1988" stroke="#1a1a1a" stroke-width="1.0"/>
<line x1="521.7500000000001" y1="552.3331999999999" x2="525.5500000000001" y2="552.3331999999999" stroke="#1a1a1a" stroke-width="1.0"/>
<rect x="538.40" y="493.20" width="13.50" height="68.60" fill="#3a7a90" stroke="#808080" stroke-width="0.6" />
<line x1="545.15" y1="483.45879999999994" x2="545.15" y2="502.9412" stroke="#1a1a1a" stroke-width="0.75"/>
<line x1="543.25" y1="483.45879999999994" x2="547.05" y2="483.45879999999994" stroke="#1a1a1a" stroke-width="1.0"/>
<line x1="543.25" y1="502.9412" x2="547.05" y2="502.9412" stroke="#1a1a1a" stroke-width="1.0"/>
<text x="545.15" y="487.59" font-size="18.5" font-weight="bold" fill="#111" text-anchor="middle">*</text>
<rect x="559.60" y="548.77" width="14.10" height="13.03" fill="#efece2" stroke="#808080" stroke-width="0.6" />
<line x1="566.6500000000001" y1="545.7475999999999" x2="566.6500000000001" y2="551.7844" stroke="#1a1a1a" stroke-width="0.75"/>
<line x1="564.7500000000001" y1="545.7475999999999" x2="568.5500000000001" y2="545.7475999999999" stroke="#1a1a1a" stroke-width="1.0"/>
<line x1="564.7500000000001" y1="551.7844" x2="568.5500000000001" y2="551.7844" stroke="#1a1a1a" stroke-width="1.0"/>
<rect x="581.30" y="507.47" width="13.30" height="54.33" fill="#3a7a90" stroke="#808080" stroke-width="0.6" />
<line x1="587.95" y1="496.2184" x2="587.95" y2="518.7192" stroke="#1a1a1a" stroke-width="0.75"/>
<line x1="586.0500000000001" y1="496.2184" x2="589.85" y2="496.2184" stroke="#1a1a1a" stroke-width="1.0"/>
<line x1="586.0500000000001" y1="518.7192" x2="589.85" y2="518.7192" stroke="#1a1a1a" stroke-width="1.0"/>
<text x="587.95" y="500.35" font-size="18.5" font-weight="bold" fill="#111" text-anchor="middle">*</text>
<text x="535.50" y="575.56" font-size="9.9" fill="#111" text-anchor="middle" font-style="italic" stroke="#111" stroke-width="0.3">HO1</text>
<text x="580.20" y="575.56" font-size="9.9" fill="#111" text-anchor="middle" font-style="italic" stroke="#111" stroke-width="0.3">NQO1</text>
</svg>
</body></html>
